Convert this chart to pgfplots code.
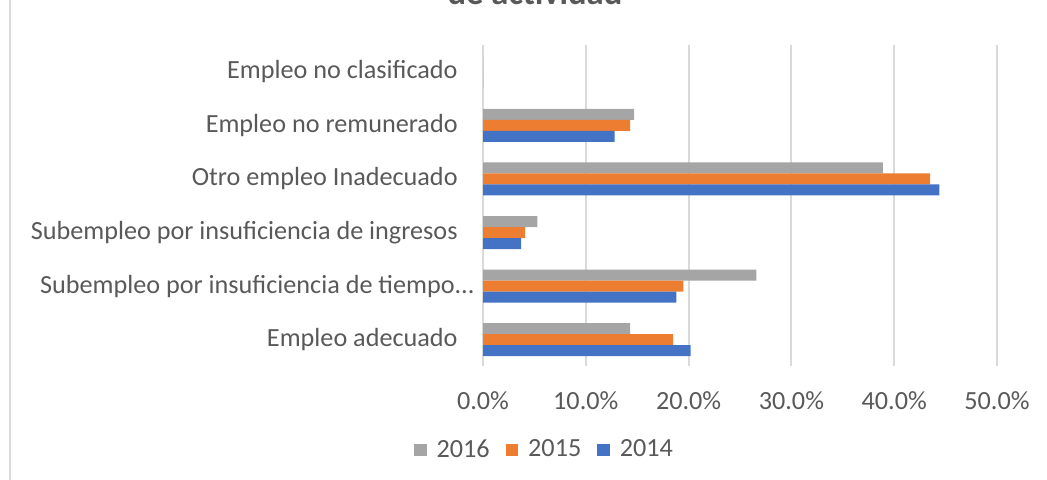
\documentclass[border=0pt]{standalone}
\usepackage{pgfplots}
\pgfplotsset{compat=1.18}
\usepackage{fontspec}
\setmainfont{Carlito}
\definecolor{c2014}{HTML}{4472C4}
\definecolor{c2015}{HTML}{ED7D31}
\definecolor{c2016}{HTML}{A5A5A5}
\definecolor{txt}{HTML}{595959}
\definecolor{gridc}{HTML}{D9D9D9}
\begin{document}
\begin{tikzpicture}
\useasboundingbox (0,0) rectangle (523.5pt,240pt);
\draw[gridc, line width=1pt] (5pt,0) -- (5pt,240pt);
\node[anchor=base, text=txt, font=\fontsize{17.3}{20}\selectfont\bfseries, inner sep=0pt] at (267.5pt,237.5pt) {de actividad};
\begin{axis}[
  at={(241.5pt,56.75pt)}, anchor=south west,
  scale only axis, width=257pt, height=160.75pt,
  xbar, bar width=5.5pt,
  xmin=0, xmax=50, ymin=-0.5, ymax=5.5,
  xtick={0,10,20,30,40,50},
  xticklabels={0.0\%,10.0\%,20.0\%,30.0\%,40.0\%,50.0\%},
  ytick={0,1,2,3,4,5},
  yticklabels={{Empleo adecuado},{Subempleo por insuficiencia de tiempo.\kern0pt.\kern0pt.\kern-8.5pt},{Subempleo por insuficiencia de ingresos},{Otro empleo Inadecuado},{Empleo no remunerado},{Empleo no clasificado}},
  xmajorgrids, grid style={gridc, line width=1pt},
  axis line style={draw=none}, major tick length=0pt,
  tick label style={font=\fontsize{13.1}{15}\selectfont, text=txt},
  yticklabel style={anchor=east, inner sep=0pt, xshift=-12.5pt},
  xticklabel style={anchor=north, inner sep=0pt, yshift=-12.5pt},
  legend columns=3,
  legend style={at={(0.1177,-0.2597)}, anchor=center, draw=none, fill=none,
    font=\fontsize{13.1}{15}\selectfont, text=txt,
    nodes={inner sep=0pt},
    /tikz/every odd column/.append style={column sep=5pt},
    /tikz/every even column/.append style={column sep=8pt}},
  legend image code/.code={\fill[#1] (0pt,-3.1pt) rectangle (6.25pt,3.1pt);},
]
\addplot[fill=c2016, draw=none, bar shift=5.5pt] coordinates {(14.3,0) (26.6,1) (5.3,2) (38.9,3) (14.7,4) (0,5)};
\addplot[fill=c2015, draw=none, bar shift=0pt] coordinates {(18.5,0) (19.5,1) (4.1,2) (43.5,3) (14.3,4) (0,5)};
\addplot[fill=c2014, draw=none, bar shift=-5.5pt] coordinates {(20.2,0) (18.8,1) (3.7,2) (44.4,3) (12.8,4) (0,5)};
\legend{2016,2015,2014}
\end{axis}
\end{tikzpicture}
\end{document}
